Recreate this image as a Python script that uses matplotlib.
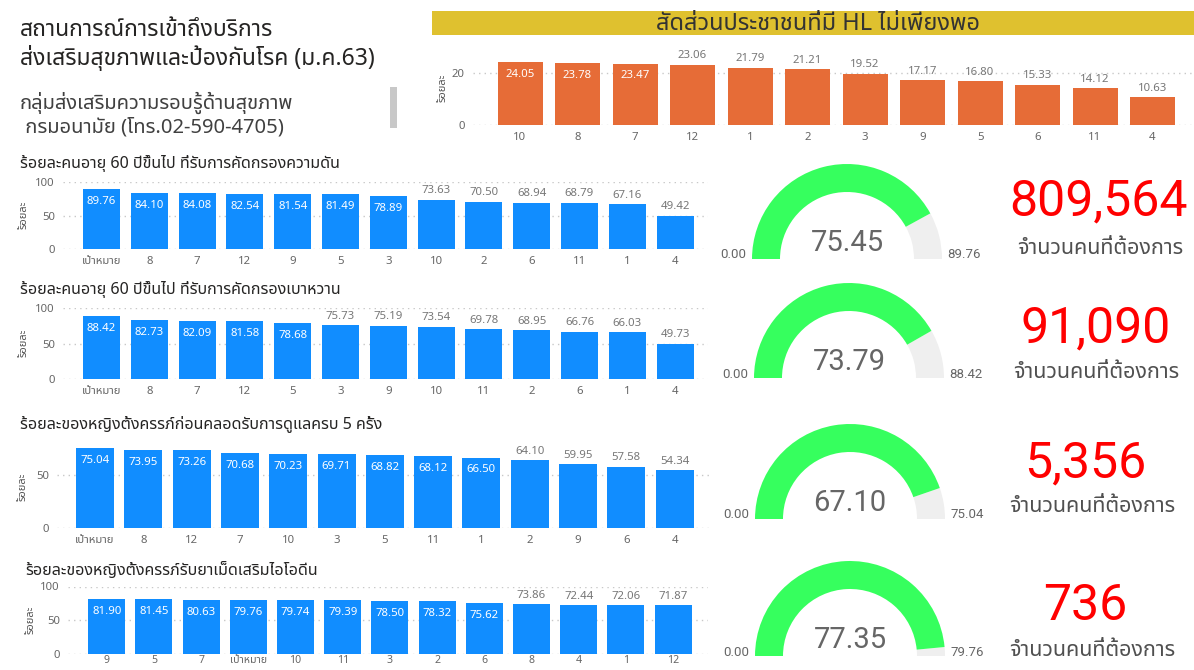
import matplotlib
matplotlib.use("Agg")
import matplotlib.pyplot as plt
from matplotlib.patches import Wedge, Rectangle
from matplotlib import font_manager as fm

# ---------------- data ----------------
hl_cats = ["10", "8", "7", "12", "1", "2", "3", "9", "5", "6", "11", "4"]
hl_vals = [24.05, 23.78, 23.47, 23.06, 21.79, 21.21, 19.52, 17.17, 16.80, 15.33, 14.12, 10.63]

bp_cats = ["เป้าหมาย", "8", "7", "12", "9", "5", "3", "10", "2", "6", "11", "1", "4"]
bp_vals = [89.76, 84.10, 84.08, 82.54, 81.54, 81.49, 78.89, 73.63, 70.50, 68.94, 68.79, 67.16, 49.42]

dm_cats = ["เป้าหมาย", "8", "7", "12", "5", "3", "9", "10", "11", "2", "6", "1", "4"]
dm_vals = [88.42, 82.73, 82.09, 81.58, 78.68, 75.73, 75.19, 73.54, 69.78, 68.95, 66.76, 66.03, 49.73]

anc_cats = ["เป้าหมาย", "8", "12", "7", "10", "3", "5", "11", "1", "2", "9", "6", "4"]
anc_vals = [75.04, 73.95, 73.26, 70.68, 70.23, 69.71, 68.82, 68.12, 66.50, 64.10, 59.95, 57.58, 54.34]

iod_cats = ["9", "5", "7", "เป้าหมาย", "10", "11", "3", "2", "6", "8", "4", "1", "12"]
iod_vals = [81.90, 81.45, 80.63, 79.76, 79.74, 79.39, 78.50, 78.32, 75.62, 73.86, 72.44, 72.06, 71.87]

gauge_vals = [75.45, 73.79, 67.10, 77.35]
gauge_min = [0.00, 0.00, 0.00, 0.00]
gauge_max = [89.76, 88.42, 75.04, 79.76]
card_vals = [809564, 91090, 5356, 736]
card_label = "จำนวนคนที่ต้องการ"

main_title = ["สถานการณ์การเข้าถึงบริการ", "ส่งเสริมสุขภาพและป้องกันโรค (ม.ค.63)"]
sub_title = ["กลุ่มส่งเสริมความรอบรู้ด้านสุขภาพ", " กรมอนามัย (โทร.02-590-4705)"]
hl_title = "สัดส่วนประชาชนที่มี HL ไม่เพียงพอ"
chart_titles = ["ร้อยละคนอายุ 60 ปีขึ้นไป ที่รับการคัดกรองความดัน",
                "ร้อยละคนอายุ 60 ปีขึ้นไป ที่รับการคัดกรองเบาหวาน",
                "ร้อยละของหญิงตั้งครรภ์ก่อนคลอดรับการดูแลครบ 5 ครั้ง",
                "ร้อยละของหญิงตั้งครรภ์รับยาเม็ดเสริมไอโอดีน"]
ylab = "ร้อยละ"


# ---------------- fonts ----------------
def pick_thai_font():
    try:
        from fontTools.ttLib import TTFont
    except Exception:
        return None
    prefs = ["Noto Sans Thai", "Noto Sans Thai UI", "Noto Sans Thai Looped",
             "Leelawadee UI", "Tahoma", "Sarabun", "Garuda", "Loma",
             "Umpush", "Waree", "Kinnari", "Norasi"]
    found = {}
    for f in fm.fontManager.ttflist:
        try:
            tt = TTFont(f.fname, fontNumber=0, lazy=True)
            cmap = tt.getBestCmap() or {}
            if 0x0E01 in cmap and 0x0E33 in cmap:
                found.setdefault(f.name, f.fname)
        except Exception:
            continue
    for p in prefs:
        if p in found:
            return p
    if found:
        return sorted(found)[0]
    return None


thai = pick_thai_font()
fams = ["Noto Sans"] + ([thai] if thai else []) + ["DejaVu Sans"]
plt.rcParams["font.family"] = fams

W, H = 1194, 670
fig = plt.figure(figsize=(W / 100, H / 100), dpi=100)
fig.patch.set_facecolor("white")

BLUE = "#118DFF"
ORANGE = "#E66C37"
GRID = "#C8C8C8"
TICK = "#666666"
DARK = "#252423"


def px_axes(x0, y_top, x1, y_bot):
    return fig.add_axes([x0 / W, 1 - y_bot / H, (x1 - x0) / W, (y_bot - y_top) / H])


def ftext(x, y, s, **kw):
    return fig.text(x / W, 1 - y / H, s, **kw)


def bar_panel(cats, vals, color, n_inside, gx0, gx1, c0, step, bw, y0, ppu,
              ymax, yticks, ylabel_x, ylabel_y, fs_val=8.2, xpad=5, xfs=8.2):
    ax = px_axes(gx0, y0 - ymax * ppu, gx1, y0)
    ax.patch.set_alpha(0)
    x = list(range(len(cats)))
    ax.bar(x, vals, width=bw / step, color=color, zorder=2)
    ax.set_xlim((gx0 - c0) / step, (gx1 - c0) / step)
    ax.set_ylim(0, ymax)
    for s in ax.spines.values():
        s.set_visible(False)
    ax.set_yticks(yticks)
    ax.set_yticklabels([f"{t:g}" for t in yticks])
    ax.set_xticks(x)
    ax.set_xticklabels(cats)
    ax.tick_params(length=0, colors=TICK, labelsize=8.2)
    ax.tick_params(axis="y", pad=5.8)
    ax.tick_params(axis="x", pad=xpad, labelsize=xfs)
    for t in yticks:
        ax.axhline(t, color=GRID, lw=1, ls=(0, (1, 3)), zorder=1)
    for i, v in enumerate(vals):
        if i < n_inside:
            ax.annotate(f"{v:.2f}", (i, v), xytext=(0, -5), textcoords="offset points",
                        ha="center", va="top", color="white", fontsize=fs_val)
        else:
            ax.annotate(f"{v:.2f}", (i, v), xytext=(0, 2.5), textcoords="offset points",
                        ha="center", va="bottom", color="#777777", fontsize=fs_val,
                        annotation_clip=False)
    ftext(ylabel_x, ylabel_y, ylab, rotation=90, ha="center", va="center",
          fontsize=8, color="#555555", fontweight="bold")
    return ax


# ---------------- overlay for shapes ----------------
ov = fig.add_axes([0, 0, 1, 1], zorder=-1)
ov.set_xlim(0, W)
ov.set_ylim(0, H)
ov.axis("off")

# banner & scrollbar
ov.add_patch(Rectangle((432, H - 35), W - 432, 24, color="#DFC12F", lw=0))
ov.add_patch(Rectangle((390, H - 128), 7, 41, color="#C8C8C8", lw=0))

# ---------------- texts ----------------
ftext(20, 30, main_title[0], fontsize=16.5, color=DARK, va="center", ha="left")
ftext(20, 58, main_title[1], fontsize=16.5, color=DARK, va="center", ha="left")
ftext(20, 103, sub_title[0], fontsize=14.5, color="#404040", va="center", ha="left")
ftext(20, 128, sub_title[1], fontsize=14.5, color="#404040", va="center", ha="left")
ftext(818, 24, hl_title, fontsize=17, color="#333333", va="center", ha="center")

title_pos = [(20, 163), (20, 290), (20, 424), (25, 571)]
for (tx, ty), t in zip(title_pos, chart_titles):
    ftext(tx, ty, t, fontsize=11.6, color=DARK, va="center", ha="left")

# ---------------- bar charts ----------------
bar_panel(hl_cats, hl_vals, ORANGE, 3, 473, 1194, 520, 57.5, 45, 125, 2.62,
          26, [0, 20], 443, 88)
bar_panel(bp_cats, bp_vals, BLUE, 7, 63, 708, 101.5, 47.8, 37, 249, 0.67,
          100, [0, 50, 100], 24, 215)
bar_panel(dm_cats, dm_vals, BLUE, 5, 63, 708, 101.5, 47.8, 37, 379, 0.71,
          100, [0, 50, 100], 24, 343)
bar_panel(anc_cats, anc_vals, BLUE, 9, 57, 713, 95, 48.3, 38, 528, 1.06,
          80, [0, 50], 23, 487)
bar_panel(iod_cats, iod_vals, BLUE, 9, 68, 708, 106.7, 47.2, 37, 654, 0.675,
          100, [0, 50, 100], 31, 620, xpad=0.5, xfs=7.6)

# ---------------- gauges ----------------
GREEN = "#36FF5E"
GGREY = "#EFEFEF"
R, r = 95, 67
gauge_pos = [(847, 259), (849, 378), (850, 519), (850, 656)]
for (cx, base), v, vmin, vmax in zip(gauge_pos, gauge_vals, gauge_min, gauge_max):
    ang = 180 * (1 - (v - vmin) / (vmax - vmin))
    ov.add_patch(Wedge((cx, H - base), R, 0, ang, width=R - r, color=GGREY, lw=0))
    ov.add_patch(Wedge((cx, H - base), R, ang, 180, width=R - r, color=GREEN, lw=0))
    ftext(cx, base - 16, f"{v:.2f}", fontsize=21, color="#666666", ha="center",
          va="center", family="Roboto")
    ftext(cx - 114, base - 4, f"{vmin:.2f}", fontsize=9.5, color="#666666",
          ha="center", va="center", family="Roboto")
    ftext(cx + 117, base - 4, f"{vmax:.2f}", fontsize=9.5, color="#666666",
          ha="center", va="center", family="Roboto")

# ---------------- cards ----------------
card_pos = [(1099, 201, 1100, 248), (1096, 328, 1096, 372),
            (1085, 463, 1092, 507), (1085, 606, 1092, 650)]
for (nx, ny, lx, ly), v in zip(card_pos, card_vals):
    ftext(nx, ny, f"{v:,}", fontsize=36, color="#FF0000", ha="center",
          va="center", family="Roboto")
    ftext(lx, ly, card_label, fontsize=15.5, color="#505050", ha="center", va="center")

fig.savefig("out.png", dpi=100, facecolor="white")
